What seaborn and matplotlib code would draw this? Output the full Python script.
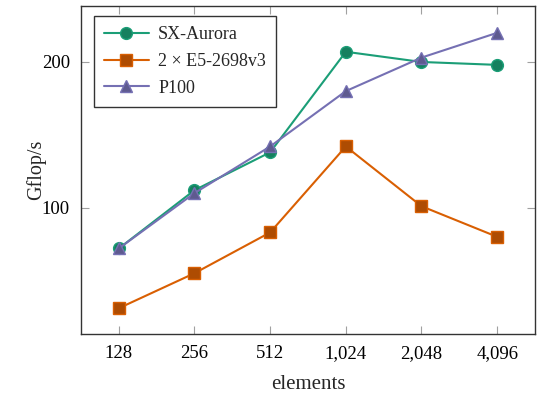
import pandas as pd
import matplotlib
matplotlib.use("Agg")
import matplotlib.pyplot as plt
import seaborn as sns

# values
elements = ["128", "256", "512", "1,024", "2,048", "4,096"]
sx_aurora = [72, 112, 138, 207, 200, 198]
e5_2698v3 = [31, 55, 83, 142, 101, 80]
p100 = [72, 110, 142, 180, 203, 220]

series = {
    "SX-Aurora": (sx_aurora, "#1b9e77", "#16805f", "o"),
    "2 \u00d7 E5-2698v3": (e5_2698v3, "#d95f02", "#ae4c02", "s"),
    "P100": (p100, "#7570b3", "#5e5a8f", "^"),
}

sns.set_theme(style="ticks")
plt.rcParams["font.family"] = ["Liberation Serif", "DejaVu Serif"]

fig = plt.figure(figsize=(5.4, 3.96), dpi=100)
ax = fig.add_axes([0.15, 0.1566, 0.8407, 0.8282])

pos = list(range(len(elements)))
for name, (vals, col, fill, mk) in series.items():
    df = pd.DataFrame({"x": pos, "y": vals})
    sns.lineplot(data=df, x="x", y="y", ax=ax, color=col, lw=1.5,
                 marker=mk, markersize=8.5, markerfacecolor=fill,
                 markeredgecolor=col, markeredgewidth=1.0, label=name)

ax.set_xlim(-0.5, 5.5)
ax.set_ylim(13.3, 238.4)
ax.set_xticks(pos)
ax.set_xticklabels(elements)
ax.set_yticks([100, 200])
ax.tick_params(direction="in", length=6, width=0.8, color="#a0a0a0",
               top=True, right=True, labelsize=13.5, pad=8, labelcolor="black")
for s in ax.spines.values():
    s.set_color("#333333")
    s.set_linewidth(1.0)

ax.set_xlabel("elements", fontsize=15, labelpad=9)
ax.set_ylabel("Gflop/s", fontsize=14.5, labelpad=-3)

leg = ax.legend(loc="upper left", bbox_to_anchor=(0.0286, 0.9695), fontsize=13,
                frameon=True, fancybox=False, handlelength=2.5,
                borderaxespad=0, borderpad=0.55, labelspacing=0.55,
                handletextpad=0.5)
leg.get_frame().set_edgecolor("#333333")
leg.get_frame().set_linewidth(1.0)
leg.get_frame().set_alpha(1)

fig.savefig("out.png", dpi=100)
